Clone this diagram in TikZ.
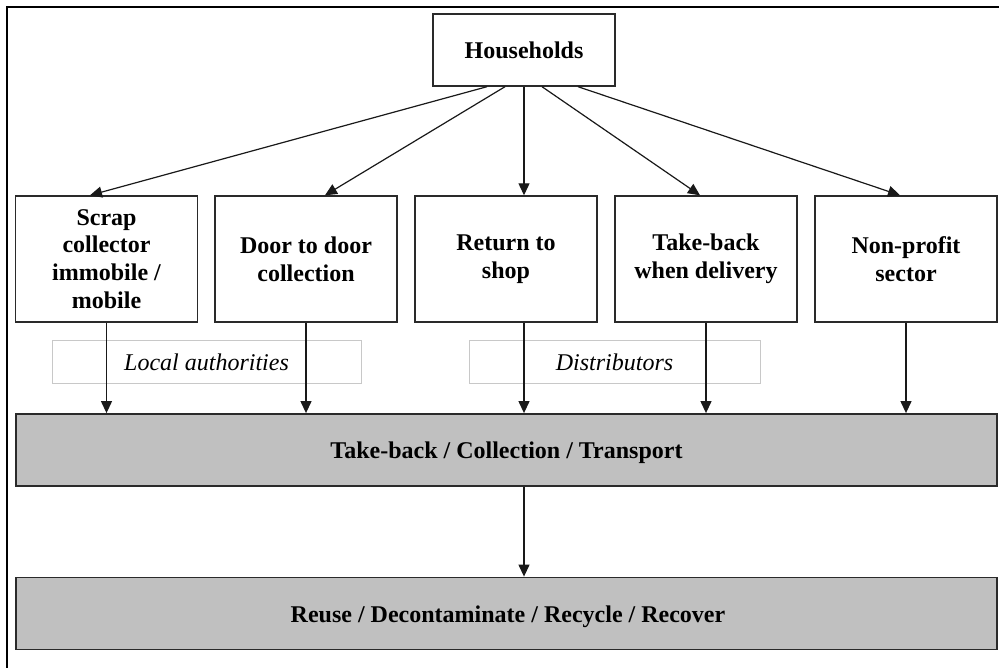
\documentclass[tikz,border=0pt]{standalone}
\usepackage{fontspec}
\setmainfont{Liberation Serif}
\usetikzlibrary{arrows.meta}
\definecolor{barfill}{HTML}{C0C0C0}
\definecolor{edge}{HTML}{2A2A2A}
\definecolor{lbledge}{HTML}{C8C8C8}
\begin{document}
\begin{tikzpicture}[x=1pt,y=-1pt,
  every node/.style={font=\fontsize{24}{27.8}\selectfont},
  boxn/.style={draw=edge,line width=1.4pt,fill=white,minimum width=182pt,minimum height=126pt,inner sep=0pt,align=center,font=\fontsize{24}{27.8}\selectfont\bfseries},
  topn/.style={draw=edge,line width=1.4pt,fill=white,minimum width=182pt,minimum height=72pt,inner sep=0pt,font=\fontsize{24}{27.8}\selectfont\bfseries},
  barn/.style={draw=edge,line width=1.8pt,fill=barfill,minimum width=981pt,minimum height=72pt,inner sep=0pt,font=\fontsize{24}{27.8}\selectfont\bfseries},
  lbl/.style={draw=lbledge,line width=1pt,minimum height=42pt,inner sep=0pt,font=\fontsize{24}{27.8}\selectfont\itshape},
  arr/.style={draw=black!90,line width=1.2pt,-{Triangle[length=12pt,width=11pt]}}]
\useasboundingbox (0,0) rectangle (999,668);
\fill[white] (0,0) rectangle (999,668);
\draw[line width=2pt] (7,668) -- (7,7) -- (999,7);

\node[topn] (hh) at (524,50) {Households};
\node[boxn] (b1) at (106.5,259) {Scrap\\collector\\immobile /\\mobile};
\node[boxn] (b2) at (306,259) {Door to door\\collection};
\node[boxn] (b3) at (506,259) {Return to\\shop};
\node[boxn] (b4) at (706,259) {Take-back\\when delivery};
\node[boxn] (b5) at (906,259) {Non-profit\\sector};

\node[lbl,minimum width=309pt] (la) at (206.5,362) {Local authorities};
\node[lbl,minimum width=291pt] (di) at (614.5,362) {Distributors};

\node[barn] (tb) at (506.5,450) {};
\node[font=\fontsize{24}{27.8}\selectfont\bfseries,inner sep=0pt] (tbt) at (506.5,453) {Take-back / Collection / Transport};
\node[barn] (rr) at (506.5,613.5) {};
\node[font=\fontsize{24}{27.8}\selectfont\bfseries,inner sep=0pt] (rrt) at (508,616.5) {Reuse / Decontaminate / Recycle / Recover};

\draw[arr] ([xshift=-37pt]hh.south) -- ([xshift=-16.5pt]b1.north);
\draw[arr] ([xshift=-19pt]hh.south) -- ([xshift=19pt]b2.north);
\draw[arr] (hh.south) -- ([xshift=18pt]b3.north);
\draw[arr] ([xshift=18pt]hh.south) -- ([xshift=-6pt]b4.north);
\draw[arr] ([xshift=54pt]hh.south) -- ([xshift=-6pt]b5.north);

\draw[arr] (b1.south) -- (b1.south |- tb.north);
\draw[arr] (b2.south) -- (b2.south |- tb.north);
\draw[arr] ([xshift=18pt]b3.south) -- ([xshift=18pt]b3.south |- tb.north);
\draw[arr] (b4.south) -- (b4.south |- tb.north);
\draw[arr] (b5.south) -- (b5.south |- tb.north);

\draw[arr] (hh.south |- tb.south) -- (hh.south |- rr.north);
\end{tikzpicture}
\end{document}
